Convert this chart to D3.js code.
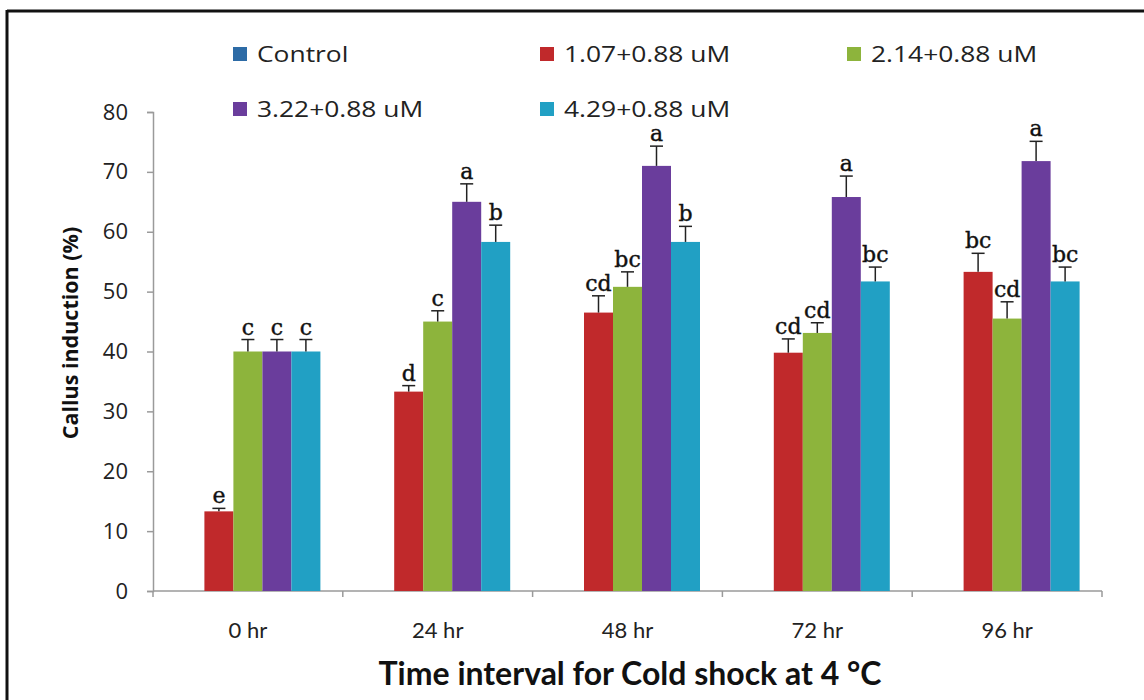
<!DOCTYPE html>
<html>
<head>
<meta charset="utf-8">
<script src="https://cdn.jsdelivr.net/npm/d3@7"></script>
<style>
  body { margin: 0; background: #fff; }
  svg { display: block; }
</style>
</head>
<body>
<svg id="chart" width="1144" height="700"></svg>
<script>
const categories = ["0 hr", "24 hr", "48 hr", "72 hr", "96 hr"];
const seriesNames = ["Control", "1.07+0.88 uM", "2.14+0.88 uM", "3.22+0.88 uM", "4.29+0.88 uM"];
const seriesColors = ["#2d6ba6", "#c0292b", "#8db43c", "#6a3d9c", "#21a0c4"];

// values per series, one entry per time interval
const controlValues = [0, 0, 0, 0, 0];
const dose1Values = [13.3, 33.3, 46.5, 39.8, 53.3];
const dose2Values = [40, 45, 50.8, 43.1, 45.5];
const dose3Values = [40, 65, 71, 65.8, 71.8];
const dose4Values = [40, 58.3, 58.3, 51.7, 51.7];

const controlErr = [0, 0, 0, 0, 0];
const dose1Err = [0.5, 1, 2.8, 2.3, 3.1];
const dose2Err = [2, 1.8, 2.5, 1.7, 2.8];
const dose3Err = [2, 3, 3.3, 3.5, 3.3];
const dose4Err = [2, 2.8, 2.6, 2.4, 2.4];

const controlLetters = ["", "", "", "", ""];
const dose1Letters = ["e", "d", "cd", "cd", "bc"];
const dose2Letters = ["c", "c", "bc", "cd", "cd"];
const dose3Letters = ["c", "a", "a", "a", "a"];
const dose4Letters = ["c", "b", "b", "bc", "bc"];

const yTicks = [0, 10, 20, 30, 40, 50, 60, 70, 80];

const allValues = [controlValues, dose1Values, dose2Values, dose3Values, dose4Values];
const allErr = [controlErr, dose1Err, dose2Err, dose3Err, dose4Err];
const allLetters = [controlLetters, dose1Letters, dose2Letters, dose3Letters, dose4Letters];

const svg = d3.select("#chart");

// frame around the figure
svg.append("line").attr("x1", 7).attr("x2", 1144).attr("y1", 11).attr("y2", 11)
  .attr("stroke", "#111").attr("stroke-width", 3);
svg.append("line").attr("x1", 7).attr("x2", 7).attr("y1", 10).attr("y2", 700)
  .attr("stroke", "#111").attr("stroke-width", 3);

const plotLeft = 153, plotRight = 1102, plotTop = 112, plotBottom = 591;

const x0 = d3.scaleBand().domain(categories).range([plotLeft, plotRight]).paddingInner(0).paddingOuter(0);
const x1 = d3.scaleBand().domain(seriesNames)
  .range([(x0.bandwidth() - 145) / 2, (x0.bandwidth() + 145) / 2]);
const y = d3.scaleLinear().domain([0, 80]).range([plotBottom, plotTop]);

// y axis
const yAxis = svg.append("g")
  .attr("transform", `translate(${plotLeft},0)`)
  .call(d3.axisLeft(y).tickValues(yTicks).tickSize(6).tickPadding(19));
yAxis.select(".domain").attr("stroke", "#9a9a9a").attr("stroke-width", 1.5);
yAxis.selectAll(".tick line").attr("stroke", "#9a9a9a").attr("stroke-width", 1.5);
yAxis.selectAll(".tick text")
  .attr("font-family", "'Open Sans', sans-serif").attr("font-size", 22).attr("fill", "#222");

// x axis with ticks at category boundaries
const xAxis = svg.append("g").attr("transform", `translate(0,${plotBottom})`);
xAxis.append("line").attr("x1", plotLeft).attr("x2", plotRight).attr("y1", 0).attr("y2", 0)
  .attr("stroke", "#9a9a9a").attr("stroke-width", 1.5);
const bounds = categories.map(c => x0(c)).concat([plotRight]);
xAxis.selectAll("line.tk").data(bounds).join("line").attr("class", "tk")
  .attr("x1", d => d).attr("x2", d => d).attr("y1", 0).attr("y2", 6)
  .attr("stroke", "#9a9a9a").attr("stroke-width", 1.5);
xAxis.selectAll("text").data(categories).join("text")
  .attr("x", d => x0(d) + x0.bandwidth() / 2).attr("y", 47)
  .attr("text-anchor", "middle")
  .attr("font-family", "Lato, sans-serif").attr("font-size", 22).attr("fill", "#222")
  .text(d => d);

// bars
const groups = svg.append("g");
seriesNames.forEach((name, si) => {
  const g = groups.append("g");
  const rows = categories.map((c, ci) => ({
    c, v: allValues[si][ci], e: allErr[si][ci], l: allLetters[si][ci]
  }));
  g.selectAll("rect").data(rows).join("rect")
    .attr("x", d => x0(d.c) + x1(name))
    .attr("y", d => y(d.v))
    .attr("width", x1.bandwidth())
    .attr("height", d => y(0) - y(d.v))
    .attr("fill", seriesColors[si]);

  const withErr = rows.filter(d => d.v > 0);
  const cx = d => x0(d.c) + x1(name) + x1.bandwidth() / 2;
  g.selectAll("line.err").data(withErr).join("line").attr("class", "err")
    .attr("x1", cx).attr("x2", cx)
    .attr("y1", d => y(d.v)).attr("y2", d => y(d.v + d.e))
    .attr("stroke", "#222").attr("stroke-width", 1.5);
  g.selectAll("line.cap").data(withErr).join("line").attr("class", "cap")
    .attr("x1", d => cx(d) - 6.5).attr("x2", d => cx(d) + 6.5)
    .attr("y1", d => y(d.v + d.e)).attr("y2", d => y(d.v + d.e))
    .attr("stroke", "#222").attr("stroke-width", 1.5);
  g.selectAll("text").data(withErr).join("text")
    .attr("x", cx).attr("y", d => y(d.v + d.e) - 5)
    .attr("text-anchor", "middle")
    .attr("font-family", "'DejaVu Serif', 'Liberation Serif', serif")
    .attr("font-size", 22).attr("fill", "#111")
    .attr("stroke", "#111").attr("stroke-width", 0.4)
    .text(d => d.l);
});

// legend (text is drawn a bit wide, like the stretched original)
const legendPos = [[233, 54], [540, 54], [847, 54], [233, 109], [540, 109]];
const legend = svg.append("g");
seriesNames.forEach((name, i) => {
  const [lx, ly] = legendPos[i];
  legend.append("rect").attr("x", lx).attr("y", ly - 7).attr("width", 14).attr("height", 14)
    .attr("fill", seriesColors[i]);
  legend.append("text")
    .attr("transform", `translate(${lx + 24},${ly + 8}) scale(1.2,1)`)
    .attr("font-family", "'Open Sans', sans-serif").attr("font-size", 22).attr("fill", "#222")
    .text(name);
});

// axis titles
svg.append("text")
  .attr("transform", "translate(78,333) rotate(-90)")
  .attr("text-anchor", "middle")
  .attr("font-family", "'Open Sans', sans-serif").attr("font-weight", "bold")
  .attr("font-size", 21.5).attr("fill", "#111")
  .text("Callus induction (%)");
svg.append("text")
  .attr("x", 630).attr("y", 685)
  .attr("text-anchor", "middle")
  .attr("font-family", "Lato, sans-serif").attr("font-weight", "bold")
  .attr("font-size", 32).attr("fill", "#111")
  .text("Time interval for Cold shock at 4 °C");
</script>
</body>
</html>
